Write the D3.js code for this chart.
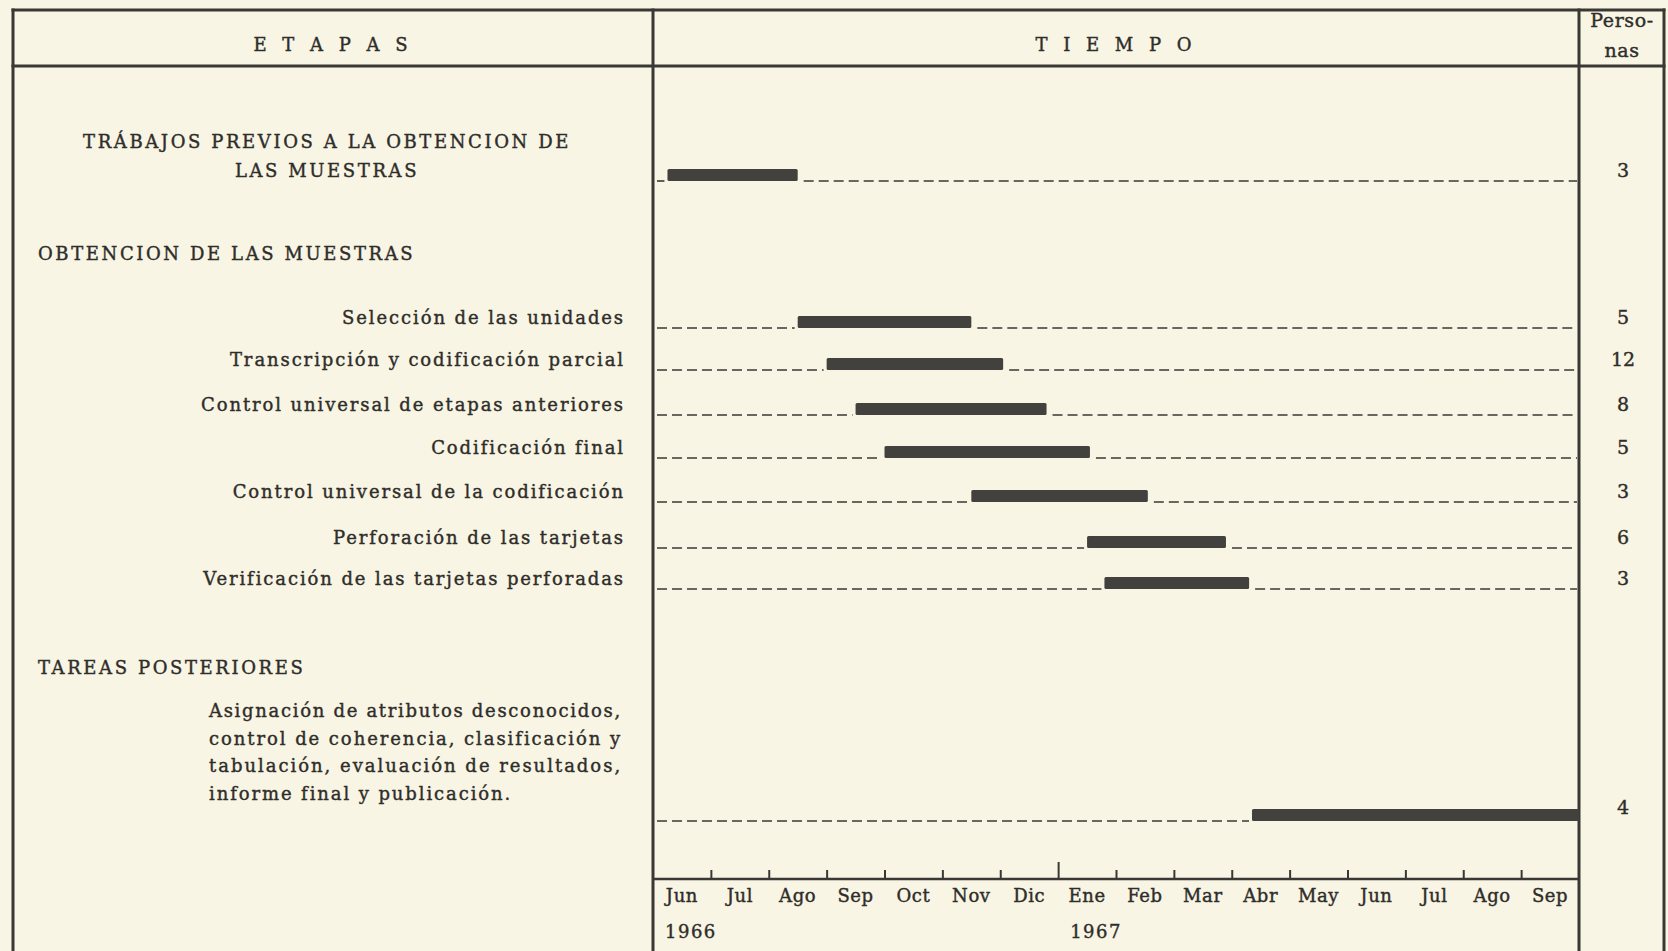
<!DOCTYPE html>
<html><head><meta charset="utf-8">
<script src="https://cdn.jsdelivr.net/npm/d3@7"></script>
<style>
html,body{margin:0;padding:0;background:#f8f5e4;}
svg{display:block;}
text{font-family:"DejaVu Serif",serif;fill:#2f2d2a;stroke:#2f2d2a;stroke-width:0.4px;}
</style></head><body>
<svg id="chart" width="1668" height="951"></svg>
<script>
// ---------- DATA ----------
const monthLabels = ["Jun","Jul","Ago","Sep","Oct","Nov","Dic","Ene","Feb","Mar","Abr","May","Jun","Jul","Ago","Sep"];
const yearLabels = ["1966","1967"];
const yearStartMonth = [0, 7];
const groupHeadings = ["OBTENCION DE LAS MUESTRAS","TAREAS POSTERIORES"];
const taskLabels = [
  ["TRÁBAJOS PREVIOS A LA OBTENCION DE","LAS MUESTRAS"],
  ["Selección de las unidades"],
  ["Transcripción y codificación parcial"],
  ["Control universal de etapas anteriores"],
  ["Codificación final"],
  ["Control universal de la codificación"],
  ["Perforación de las tarjetas"],
  ["Verificación de las tarjetas perforadas"],
  ["Asignación de atributos desconocidos,","control de coherencia, clasificación y","tabulación, evaluación de resultados,","informe final y publicación."]
];
// months elapsed since 1 June 1966
const taskStart = [0.25, 2.5, 3.0, 3.5, 4.0, 5.5, 7.5, 7.8, 10.35];
const taskEnd   = [2.5, 5.5, 6.05, 6.8, 7.55, 8.55, 9.9, 10.3, 16];
const persons   = [3, 5, 12, 8, 5, 3, 6, 3, 4];

// ---------- LAYOUT ----------
const W = 1668, H = 951;
const frame = {left:13, top:10, right:1664, header:66, div1:653, div2:1579};
const axisY = 879;
const ink = "#3a3835";
const FS = "18px", LS = "1.9px", LS_UP = "2.6px";
const svg = d3.select("#chart");
svg.append("rect").attr("width",W).attr("height",H).attr("fill","#f8f5e4");

const x = d3.scaleLinear().domain([0, 16]).range([frame.div1, frame.div2]);
const rowIdx = d3.range(taskLabels.length);
const y = d3.scaleOrdinal().domain(rowIdx).range([181, 328, 370, 415, 458, 502, 548, 589, 821]);

// frame
const g = svg.append("g");
const L = (x1,y1,x2,y2,w) => g.append("line").attr("x1",x1).attr("y1",y1).attr("x2",x2).attr("y2",y2)
  .attr("stroke",ink).attr("stroke-width",w||3).attr("stroke-linecap","square");
L(frame.left, frame.top, frame.right, frame.top);
L(frame.left, frame.header, frame.right, frame.header);
L(frame.left, frame.top, frame.left, H);
L(frame.right, frame.top, frame.right, H);
L(frame.div1, frame.top, frame.div1, H);
L(frame.div2, frame.top, frame.div2, H);

// headers
const hdr = (t, cx, cy, fs) => svg.append("text").attr("x",cx).attr("y",cy).attr("text-anchor","middle")
  .attr("dominant-baseline","central").style("font-size",fs||FS).text(t);
hdr("E T A P A S", 333, 44).style("letter-spacing","5px");
hdr("T I E M P O", 1116, 44).style("letter-spacing","5px");
hdr("Perso-", 1622, 20, "19px").style("letter-spacing","0.6px");
hdr("nas", 1622, 50, "19px").style("letter-spacing","0.6px");

// dashed guide lines + bars
const rows = svg.append("g");
rowIdx.forEach(i => {
  const yy = y(i);
  const xs = x(taskStart[i]), xe = x(taskEnd[i]);
  rows.append("line").attr("x1", frame.div1 + 4).attr("x2", xs - 3).attr("y1", yy).attr("y2", yy)
    .attr("stroke", ink).attr("stroke-width", 1.6).attr("stroke-dasharray", "10,5");
  if (xe < frame.div2 - 8)
    rows.append("line").attr("x1", xe + 6).attr("x2", frame.div2 - 2).attr("y1", yy).attr("y2", yy)
      .attr("stroke", ink).attr("stroke-width", 1.6).attr("stroke-dasharray", "10,5");
  rows.append("rect").attr("x", xs).attr("y", yy - 12).attr("width", xe - xs).attr("height", 12)
    .attr("rx", 1.5).attr("fill", "#43413d");
});

// task labels
const lab = svg.append("g").style("font-size",FS).style("letter-spacing",LS);
rowIdx.forEach(i => {
  const lines = taskLabels[i];
  if (i === 0) {
    lines.forEach((t, k) => lab.append("text").attr("x", 327).attr("y", y(i) - 11 - 29*(lines.length-1-k))
      .attr("text-anchor","middle").attr("dominant-baseline","central").style("letter-spacing",LS_UP).text(t));
  } else if (i === taskLabels.length - 1) {
    lines.forEach((t, k) => {
      const tx = lab.append("text").attr("x", 209).attr("y", y(i) - 28 - 27.5*(lines.length-1-k))
        .attr("dominant-baseline","central").text(t);
      if (k < lines.length - 1) tx.attr("textLength", 413).attr("lengthAdjust","spacing");
    });
  } else {
    lab.append("text").attr("x", 625).attr("y", y(i) - 11).attr("text-anchor","end")
      .attr("dominant-baseline","central").text(lines[0]);
  }
});
// group headings
const headY = [253, 667];
groupHeadings.forEach((t, k) => lab.append("text").attr("x", 38).attr("y", headY[k])
  .attr("dominant-baseline","central").style("letter-spacing",LS_UP).text(t));

// persons
const pg = svg.append("g").style("font-size","19px");
rowIdx.forEach(i => pg.append("text").attr("x", 1623).attr("y", y(i) - (i === rowIdx.length-1 ? 14 : 11))
  .attr("text-anchor","middle").attr("dominant-baseline","central").text(persons[i]));

// time axis: ticks upward at month boundaries
const axG = svg.append("g").attr("transform", `translate(0,${axisY})`);
axG.append("line").attr("x1", frame.div1).attr("x2", frame.div2).attr("y1",0).attr("y2",0)
  .attr("stroke", ink).attr("stroke-width", 2.5);
const tickAxis = d3.axisTop(x).tickValues(d3.range(1, 16)).tickFormat("").tickSizeOuter(0).tickSize(9);
const tg = svg.append("g").attr("transform", `translate(0,${axisY})`).call(tickAxis);
tg.select(".domain").remove();
tg.selectAll(".tick line").attr("stroke", ink).attr("stroke-width", 2)
  .attr("y2", d => d === yearStartMonth[1] ? -17 : -9);

// month labels centred in each month
const mg = svg.append("g").style("font-size",FS).style("letter-spacing","0.6px");
monthLabels.forEach((m, k) => mg.append("text").attr("x", x(k + 0.5)).attr("y", axisY + 16)
  .attr("text-anchor","middle").attr("dominant-baseline","central").text(m));
yearLabels.forEach((yl, k) => mg.append("text").attr("x", x(yearStartMonth[k]) + 12).attr("y", axisY + 52)
  .attr("dominant-baseline","central").style("letter-spacing","1.5px").text(yl));
</script>
</body></html>
